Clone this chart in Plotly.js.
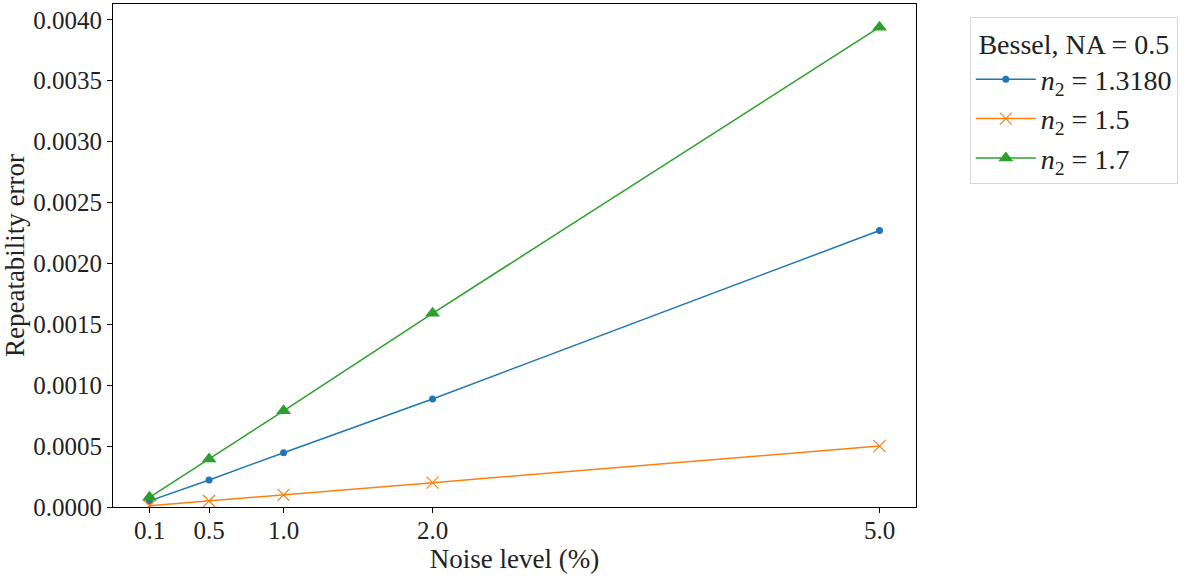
<!DOCTYPE html>
<html>
<head>
<meta charset="utf-8">
<script src="https://cdn.plot.ly/plotly-3.0.1.min.js"></script>
<style>html,body{margin:0;padding:0;background:#fff;}#chart{width:1198px;height:577px;}</style>
</head>
<body>
<div id="chart"></div>
<script>
const noiseLevels = [0.1, 0.5, 1.0, 2.0, 5.0];
const tickLabels = ["0.1", "0.5", "1.0", "2.0", "5.0"];
const errN13180 = [0.00005, 0.000222, 0.000446, 0.000887, 0.00227];
const errN15 = [0.00001, 0.0000495, 0.0001, 0.0002, 0.0005];
const errN17 = [0.00008, 0.000394, 0.00079, 0.00159, 0.00394];
const seriesNames = ["<i>n</i><sub>2</sub> = 1.3180", "<i>n</i><sub>2</sub> = 1.5", "<i>n</i><sub>2</sub> = 1.7"];
const legendTitle = "Bessel, NA = 0.5";

const FONT = "Liberation Serif, DejaVu Serif, serif";

const traces = [
  {x: noiseLevels, y: errN13180, name: seriesNames[0], mode: "lines+markers",
   line: {color: "#1f77b4", width: 1.5}, marker: {symbol: "circle", size: 7, color: "#1f77b4"}},
  {x: noiseLevels, y: errN15, name: seriesNames[1], mode: "lines+markers",
   line: {color: "#ff7f0e", width: 1.5}, marker: {symbol: "x-thin", size: 12, color: "#ff7f0e", line: {color: "#ff7f0e", width: 1.2}}},
  {x: noiseLevels, y: errN17, name: seriesNames[2], mode: "lines+markers",
   line: {color: "#2ca02c", width: 1.5}, marker: {symbol: "triangle-up", size: 13, color: "#2ca02c"}}
];

const layout = {
  width: 1198, height: 577,
  margin: {l: 113, r: 282, t: 4, b: 70},
  paper_bgcolor: "#fff", plot_bgcolor: "#fff",
  font: {family: FONT, size: 25, color: "#222"},
  showlegend: true,
  legend: {
    x: 1.067, y: 0.974, xanchor: "left", yanchor: "top",
    bordercolor: "#d8d8d8", borderwidth: 1, bgcolor: "#fff",
    font: {family: FONT, size: 28, color: "#222"},
    title: {text: legendTitle, side: "top center", font: {family: FONT, size: 28, color: "#222"}},
    itemwidth: 60
  },
  xaxis: {
    range: [-0.145, 5.245], tickmode: "array", tickvals: noiseLevels, ticktext: tickLabels,
    showgrid: false, zeroline: false, showline: true, linecolor: "#000", linewidth: 1, mirror: true,
    ticks: "outside", ticklen: 5, tickcolor: "#000", ticklabelstandoff: -4,
    title: {text: "Noise level (%)", font: {family: FONT, size: 27}, standoff: 2}
  },
  yaxis: {
    range: [0, 0.00413], tickmode: "linear", tick0: 0, dtick: 0.0005, tickformat: ".4f",
    showgrid: false, zeroline: false, showline: true, linecolor: "#000", linewidth: 1, mirror: true,
    ticks: "outside", ticklen: 5, tickcolor: "#000",
    title: {text: "Repeatability error", font: {family: FONT, size: 27}, standoff: 4}
  }
};

Plotly.newPlot("chart", traces, layout, {displayModeBar: false, staticPlot: true});
</script>
</body>
</html>
